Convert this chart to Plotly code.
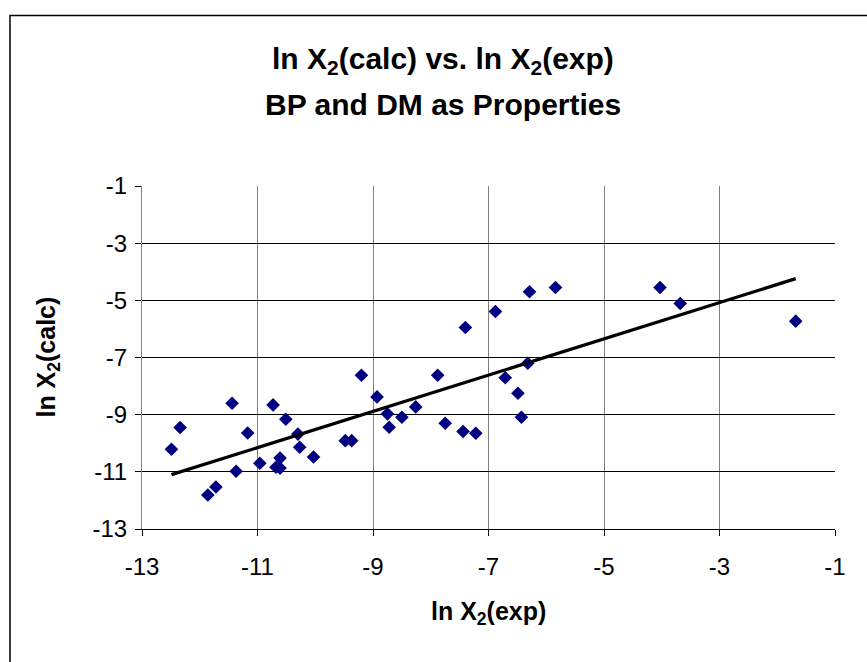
import numpy as np
import plotly.graph_objects as go

# Data
ln_x2_exp = [-12.49, -12.34, -11.86, -11.72, -11.44, -11.37, -11.17, -10.96, -10.73, -10.68,
             -10.61, -10.61, -10.51, -10.30, -10.27, -10.03, -9.48, -9.37, -9.20, -8.93,
             -8.75, -8.72, -8.50, -8.26, -7.88, -7.75, -7.44, -7.40, -7.22, -6.88,
             -6.71, -6.49, -6.43, -6.32, -6.29, -5.84, -4.03, -3.68, -1.68]
ln_x2_calc = [-10.21, -9.45, -11.81, -11.53, -8.60, -10.98, -9.64, -10.70, -8.66, -10.84,
              -10.87, -10.52, -9.16, -9.68, -10.14, -10.48, -9.91, -9.91, -7.62, -8.38,
              -8.97, -9.44, -9.09, -8.73, -7.62, -9.30, -9.59, -5.95, -9.65, -5.39,
              -7.71, -8.25, -9.09, -7.20, -4.70, -4.55, -4.55, -5.11, -5.73]
tick_vals = [-13, -11, -9, -7, -5, -3, -1]
tick_text = ["-13", "-11", "-9", "-7", "-5", "-3", "-1"]

# Linear trendline (least squares) over the data range
slope, intercept = np.polyfit(ln_x2_exp, ln_x2_calc, 1)
trend_x = [min(ln_x2_exp), max(ln_x2_exp)]
trend_y = [slope * v + intercept for v in trend_x]

FONT = "Liberation Sans, Arial, sans-serif"

fig = go.Figure()
fig.add_trace(go.Scatter(
    x=ln_x2_exp, y=ln_x2_calc, mode="markers",
    marker=dict(symbol="diamond", size=10.5, color="#000080", line=dict(width=0)),
    showlegend=False))
fig.add_trace(go.Scatter(
    x=trend_x, y=trend_y, mode="lines",
    line=dict(color="black", width=3.2), showlegend=False))

fig.update_layout(
    width=867, height=662,
    margin=dict(l=142, r=32, t=186, b=133),
    paper_bgcolor="white", plot_bgcolor="white",
    font=dict(family=FONT, color="black"),
    showlegend=False,
)
fig.update_xaxes(
    range=[-13, -1], tickvals=tick_vals, ticktext=tick_text,
    showgrid=True, gridcolor="#808080", gridwidth=1,
    showline=True, linecolor="black", linewidth=1,
    ticks="outside", ticklen=6, tickcolor="black",
    tickfont=dict(size=24, family=FONT, color="black"),
    ticklabelstandoff=10, zeroline=False, fixedrange=True,
)
fig.update_yaxes(
    range=[-13, -1], tickvals=tick_vals, ticktext=tick_text,
    showgrid=True, gridcolor="black", gridwidth=1,
    showline=True, linecolor="#808080", linewidth=1,
    ticks="outside", ticklen=6, tickcolor="black",
    tickfont=dict(size=24, family=FONT, color="black"),
    ticklabelstandoff=3, zeroline=False, fixedrange=True,
)

annotations = [
    dict(text="<b>ln X<sub>2</sub>(calc) vs. ln X<sub>2</sub>(exp)</b>", x=0.435, y=1.366,
         font=dict(size=30, family=FONT, color="black")),
    dict(text="<b>BP and DM as Properties</b>", x=0.435, y=1.238,
         font=dict(size=30, family=FONT, color="black")),
    dict(text="<b>ln X<sub>2</sub>(exp)</b>", x=0.5, y=-0.245,
         font=dict(size=25, family=FONT, color="black")),
    dict(text="<b>ln X<sub>2</sub>(calc)</b>", x=-0.137, y=0.5, textangle=-90,
         font=dict(size=25, family=FONT, color="black")),
]
for a in annotations:
    a.update(xref="paper", yref="paper", showarrow=False, xanchor="center", yanchor="middle")
fig.update_layout(annotations=annotations)

# Chart area border (only top and left edges fall inside the picture)
fig.add_shape(type="rect", xref="paper", yref="paper",
              x0=-0.1905, x1=1.07, y0=-0.45, y1=1.497,
              line=dict(color="black", width=1.5), layer="below")

fig.write_html("out.html")
